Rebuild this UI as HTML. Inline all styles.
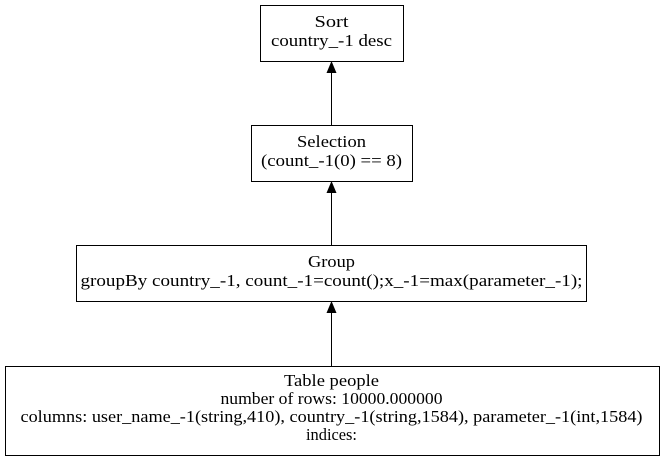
<!DOCTYPE html>
<html><head><style>body{margin:0;background:#fff}svg{display:block}text{font-family:"Liberation Serif",serif;font-size:17px;text-anchor:middle;fill:#000}</style></head>
<body>
<svg width="664" height="461" viewBox="0 0 664 461" xmlns="http://www.w3.org/2000/svg">
<g fill="none" stroke="#000" stroke-width="1">
<rect x="260.5" y="5.5" width="143" height="56"/>
<rect x="251.5" y="125.5" width="161" height="56"/>
<rect x="76.5" y="245.5" width="510" height="56"/>
<rect x="5.5" y="366.5" width="654" height="89"/>
<line x1="331.5" y1="125" x2="331.5" y2="72"/>
<line x1="331.5" y1="245" x2="331.5" y2="192"/>
<line x1="331.5" y1="366" x2="331.5" y2="312"/>
</g>
<g fill="#000">
<polygon points="331.5,61 326.5,73 336.5,73"/>
<polygon points="331.5,181 326.5,193 336.5,193"/>
<polygon points="331.5,301 326.5,313 336.5,313"/>
</g>
<text x="331.5" y="27" textLength="34" lengthAdjust="spacingAndGlyphs">Sort</text>
<text x="331.5" y="46" textLength="121" lengthAdjust="spacingAndGlyphs">country_-1 desc</text>
<text x="331.5" y="147" textLength="69" lengthAdjust="spacingAndGlyphs">Selection</text>
<text x="331.5" y="166" textLength="141" lengthAdjust="spacingAndGlyphs">(count_-1(0) == 8)</text>
<text x="331.5" y="267" textLength="47" lengthAdjust="spacingAndGlyphs">Group</text>
<text x="331.5" y="286" textLength="502" lengthAdjust="spacingAndGlyphs">groupBy country_-1, count_-1=count();x_-1=max(parameter_-1);</text>
<text x="331.5" y="386" textLength="95" lengthAdjust="spacingAndGlyphs">Table people</text>
<text x="331.5" y="404" textLength="222" lengthAdjust="spacingAndGlyphs">number of rows: 10000.000000</text>
<text x="331.5" y="422" textLength="622" lengthAdjust="spacingAndGlyphs">columns: user_name_-1(string,410), country_-1(string,1584), parameter_-1(int,1584)</text>
<text x="331.5" y="440" textLength="51" lengthAdjust="spacingAndGlyphs">indices:</text>
</svg>
</body></html>
